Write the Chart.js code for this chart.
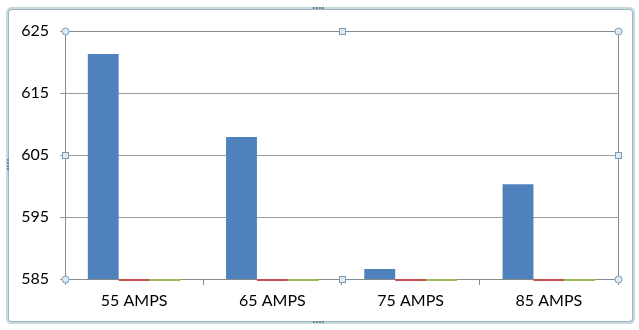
<!DOCTYPE html>
<html>
<head>
<meta charset="utf-8">
<script src="https://cdn.jsdelivr.net/npm/chart.js@4/dist/chart.umd.min.js"></script>
<style>
  html, body { margin: 0; padding: 0; background: #fff; }
  #wrap { width: 639px; height: 330px; position: relative; }
</style>
</head>
<body>
<div id="wrap"><canvas id="ampchart" width="639" height="330"></canvas></div>
<script>
var categories = ["55 AMPS", "65 AMPS", "75 AMPS", "85 AMPS"];
var series1 = [621.3, 607.9, 586.6, 600.3];
var series2 = [0, 0, 0, 0];
var series3 = [0, 0, 0, 0];
var yTicks = [585, 595, 605, 615, 625];

Chart.defaults.font.family = "Lato";
Chart.defaults.font.size = 16;
Chart.defaults.color = "black";

// bars with values under the axis minimum show as a flat line on the axis
var baseLines = {
  id: "baseLines",
  afterDatasetsDraw: function (chart) {
    var ctx = chart.ctx;
    var bottom = chart.chartArea.bottom;
    chart.data.datasets.forEach(function (ds, i) {
      var meta = chart.getDatasetMeta(i);
      meta.data.forEach(function (bar, j) {
        if (ds.data[j] > chart.scales.y.min) return;
        ctx.save();
        ctx.strokeStyle = ds.backgroundColor;
        ctx.lineWidth = 2;
        ctx.beginPath();
        ctx.moveTo(bar.x - bar.width / 2, bottom + 1);
        ctx.lineTo(bar.x + bar.width / 2, bottom + 1);
        ctx.stroke();
        ctx.restore();
      });
    });
  }
};

// selection frame and handles around the chart and plot area
var frame = {
  id: "frame",
  beforeDraw: function (chart) {
    var ctx = chart.ctx;
    ctx.save();
    ctx.fillStyle = "#fff";
    ctx.fillRect(0, 0, chart.width, chart.height);
    ctx.strokeStyle = "#c5d9df";
    ctx.lineWidth = 3;
    ctx.beginPath();
    ctx.roundRect(7.5, 8.5, 626, 314, 4);
    ctx.stroke();
    ctx.strokeStyle = "#9fb4bd";
    ctx.lineWidth = 1;
    ctx.beginPath();
    ctx.roundRect(8.5, 9.5, 624, 312, 3);
    ctx.stroke();
    ctx.fillStyle = "#6f8a96";
    [[319, 8], [319, 322]].forEach(function (p) {
      for (var k = -2; k < 2; k++) ctx.fillRect(p[0] + k * 3, p[1] - 1, 2, 2);
    });
    for (var k = -2; k < 2; k++) ctx.fillRect(7, 165 + k * 3, 2, 2);
    ctx.restore();
  },
  afterDraw: function (chart) {
    var ctx = chart.ctx;
    var a = chart.chartArea;
    var cx = Math.round((a.left + a.right) / 2) + 0.5;
    var cy = Math.round((a.top + a.bottom) / 2) + 0.5;
    ctx.save();
    ctx.strokeStyle = "#8a8a8a";
    ctx.lineWidth = 1;
    ctx.beginPath();
    ctx.moveTo(a.left, a.top + 0.5);
    ctx.lineTo(a.right + 0.5, a.top + 0.5);
    ctx.lineTo(a.right + 0.5, a.bottom);
    ctx.stroke();
    ctx.fillStyle = "#dde9f3";
    ctx.strokeStyle = "#7f9db9";
    [[a.left, a.top], [a.right, a.top], [a.left, a.bottom], [a.right, a.bottom]].forEach(function (p) {
      ctx.beginPath();
      ctx.arc(p[0] + 0.5, p[1] + 0.5, 3.5, 0, Math.PI * 2);
      ctx.fill();
      ctx.stroke();
    });
    [[cx, a.top + 0.5], [cx, a.bottom + 0.5], [a.left + 0.5, cy], [a.right + 0.5, cy]].forEach(function (p) {
      ctx.fillRect(p[0] - 3, p[1] - 3, 6, 6);
      ctx.strokeRect(p[0] - 3, p[1] - 3, 6, 6);
    });
    ctx.restore();
  }
};

var chartData = {
  labels: categories,
  datasets: [
    { label: "Series1", data: series1, backgroundColor: "#4f81bd" },
    { label: "Series2", data: series2, backgroundColor: "#c0504d" },
    { label: "Series3", data: series3, backgroundColor: "#9bbb59" }
  ]
};

var chartOptions = {
  responsive: false,
  animation: false,
  layout: { padding: { top: 31, right: 21, left: 0, bottom: 0 } },
  plugins: {
    legend: { display: false },
    tooltip: { enabled: false }
  },
  datasets: {
    bar: { categoryPercentage: 0.67, barPercentage: 1 }
  },
  scales: {
    x: {
      grid: { offset: true, drawOnChartArea: false, color: "#8a8a8a", tickLength: 6 },
      border: { color: "#8a8a8a" },
      ticks: { padding: 6, font: { size: 16 } },
      afterFit: function (s) { s.height = 51; }
    },
    y: {
      min: 585,
      max: 625,
      afterBuildTicks: function (s) {
        s.ticks = yTicks.map(function (v) { return { value: v }; });
      },
      grid: { color: "#9a9a9a", tickLength: 5 },
      border: { color: "#8a8a8a" },
      ticks: { padding: 11, font: { size: 16 } },
      afterFit: function (s) { s.width = 65; }
    }
  }
};

new Chart(document.getElementById("ampchart"), {
  type: "bar",
  data: chartData,
  options: chartOptions,
  plugins: [frame, baseLines]
});
</script>
</body>
</html>
